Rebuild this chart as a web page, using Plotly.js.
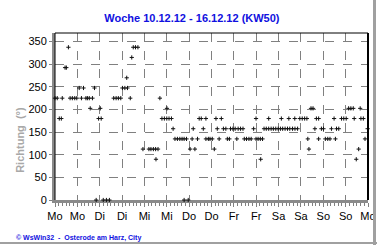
<!DOCTYPE html>
<html>
<head>
<meta charset="utf-8">
<script src="https://cdn.plot.ly/plotly-3.0.1.min.js"></script>
<style>
html,body{margin:0;padding:0;background:#fff;}
#wrap{position:relative;width:380px;height:245px;overflow:hidden;}
#chart{position:absolute;left:0;top:0;width:380px;height:245px;}
#bR{position:absolute;left:373px;top:0;width:3px;height:245px;background:#a0a0a0;}
#bB{position:absolute;left:0;top:242px;width:377px;height:2px;background:#a0a0a0;}
</style>
</head>
<body>
<div id="wrap"><div id="chart"></div><div id="bR"></div><div id="bB"></div></div>
<script>
// Time in hours since Monday 10.12.12 00:00
const hours = [0,1.2,2.3,3.4,3.9,5.4,6.1,7.2,8.1,9.3,10.6,11.7,13.0,14.2,15.3,16.6,17.4,18.4,18.9,20.1,21.2,22.1,23.4,24.3,24.8,25.9,27.6,29.2,31.5,32.8,34.0,35.3,36.2,37.5,38.5,38.9,40.4,41.2,42.0,43.2,44.5,47.2,50.4,51.5,52.8,54.0,54.2,55.3,56.3,57.4,58.7,60.0,60.1,61.2,62.5,63.4,64.4,65.7,67.0,68.2,69.3,69.3,70.6,71.5,72.5,73.6,74.2,75.1,76.5,77.4,78.5,79.6,81.0,81.0,82.3,83.2,84.4,85.5,86.4,87.1,88.1,89.3,90.4,91.7,92.5,93.6,94.2,95.5,96.7,97.6,98.3,99.6,100.9,101.6,102.8,104.1,105.3,106.6,107.9,107.9,109.0,110.2,110.4,111.4,112.2,113.4,114.7,114.7,116.0,117.2,118.5,119.8,121.0,121.5,122.2,123.5,124.8,125.5,126.0,127.5,128.7,128.8,130.2,131.4,132.7,134.0,135.2,135.7,136.3,137.4,138.5,139.5,140.3,141.5,141.5,143.0,144.1,145.1,146.4,147.6,148.4,149.8,150.5,151.1,152.3,153.8,155.0,156.3,157.6,158.8,160.1,160.6,161.7,163.0,163.8,164.2,165.5,166.4,167.8];
// Wind direction in degrees
const richtung = [225,225,180,180,225,292.5,292.5,337.5,225,225,225,225,247.5,225,247.5,225,225,225,202.5,225,247.5,0,180,202.5,180,0,0,0,225,225,225,225,247.5,247.5,270,247.5,225,315,337.5,337.5,337.5,112.5,112.5,112.5,112.5,112.5,90,112.5,225,180,180,180,202.5,180,180,157.5,135,135,135,135,135,0,135,0,112.5,135,157.5,112.5,135,180,180,157.5,180,135,135,135,135,112.5,180,157.5,135,180,157.5,157.5,135,135,157.5,157.5,157.5,135,157.5,157.5,157.5,135,135,135,135,157.5,180,135,135,135,90,135,157.5,157.5,180,157.5,157.5,157.5,157.5,157.5,157.5,180,157.5,157.5,157.5,180,157.5,157.5,180,157.5,157.5,180,180,180,180,135,112.5,202.5,202.5,157.5,180,180,135,157.5,157.5,135,135,135,157.5,180,135,157.5,157.5,180,180,180,202.5,202.5,202.5,180,90,112.5,202.5,180,180,135,157.5];
const tickHours = [0,12,24,36,48,60,72,84,96,108,120,132,144,156,168];
const tickLabels = ["Mo","Mo","Di","Di","Mi","Mi","Do","Do","Fr","Fr","Sa","Sa","So","So","Mo"];
const yTicks = [0,50,100,150,200,250,300,350];

const font = "Liberation Sans, Arial, sans-serif";
Plotly.newPlot('chart', [{
  x: hours, y: richtung, type: 'scatter', mode: 'markers', cliponaxis: false,
  marker: {symbol: 'cross-thin', size: 3, color: '#000', line: {width: 1, color: '#111'}},
  hoverinfo: 'none'
}], {
  width: 380, height: 245,
  margin: {l: 55, r: 12, t: 33, b: 45},
  paper_bgcolor: '#fff', plot_bgcolor: '#fff',
  showlegend: false,
  title: {text: '<b>Woche 10.12.12 - 16.12.12 (KW50)</b>', font: {family: font, size: 11, color: '#1010e0'}, x: 0.505, xanchor: 'center', y: 0.925, yanchor: 'middle'},
  xaxis: {
    range: [0, 168], tickvals: tickHours, ticktext: tickLabels,
    tickfont: {family: font, size: 11, color: '#000'},
    showgrid: true, gridcolor: '#808080', griddash: 'dash', gridwidth: 1,
    showline: true, linecolor: '#8a8a8a', linewidth: 3,
    ticks: 'outside', ticklen: 4, tickcolor: '#808080', tickwidth: 1,
    minor: {dtick: 2, tick0: 0, ticks: 'outside', ticklen: 3, tickcolor: '#808080', showgrid: false},
    zeroline: false, layer: 'below traces', fixedrange: true
  },
  yaxis: {
    range: [0, 369], tickvals: yTicks,
    tickfont: {family: font, size: 11, color: '#000'},
    showgrid: true, gridcolor: '#808080', griddash: 'dash', gridwidth: 1,
    showline: true, linecolor: '#8a8a8a', linewidth: 3,
    ticks: 'outside', ticklen: 3, tickcolor: '#808080',
    zeroline: false, layer: 'below traces', fixedrange: true
  },
  shapes: [
    {type: 'line', xref: 'paper', yref: 'paper', x0: 0, x1: 1, y0: 1, y1: 1, line: {color: '#000', width: 1}},
    {type: 'line', xref: 'paper', yref: 'paper', x0: 1, x1: 1, y0: 0, y1: 1, line: {color: '#000', width: 2}},
    {type: 'line', xref: 'paper', yref: 'paper', x0: 0, x1: 0, y0: 0, y1: 1, line: {color: '#000', width: 1}}
  ],
  annotations: [
    {text: '<b>Richtung  (°)</b>', xref: 'paper', yref: 'paper', x: -0.112, y: 0.36, textangle: -90, showarrow: false, font: {family: font, size: 11, color: '#a8a8a8'}, xanchor: 'center', yanchor: 'middle'},
    {text: '<b>© WsWin32  -  Osterode am Harz, City</b>', xref: 'paper', yref: 'paper', x: -0.13, y: -0.19, xanchor: 'left', yanchor: 'top', showarrow: false, font: {family: font, size: 7, color: '#1010e0'}}
  ]
}, {displayModeBar: false, staticPlot: true});
</script>
</body>
</html>
